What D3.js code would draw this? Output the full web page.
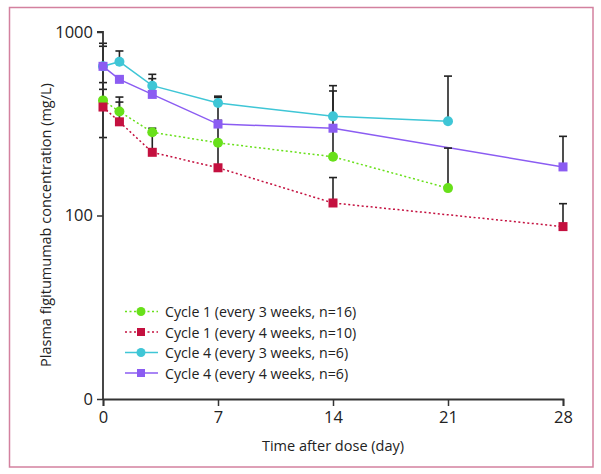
<!DOCTYPE html>
<html>
<head>
<meta charset="utf-8">
<script src="https://cdn.jsdelivr.net/npm/d3@7"></script>
<style>
  html, body { margin: 0; padding: 0; background: #fff; }
  svg text { font-family: "Open Sans", "Noto Sans", sans-serif; fill: #222; }
</style>
</head>
<body>
<svg id="chart" width="601" height="474"></svg>
<script>
// ---- data ----
const seriesNames = [
  "Cycle 1 (every 3 weeks, n=16)",
  "Cycle 1 (every 4 weeks, n=10)",
  "Cycle 4 (every 3 weeks, n=6)",
  "Cycle 4 (every 4 weeks, n=6)"
];
const c1q3wDays  = [0, 1, 3, 7, 14, 21];
const c1q3wMean  = [424, 369, 284, 249, 209, 141];
const c1q3wUpper = [530, 442, 299, 330, 300, 233];

const c1q4wDays  = [0, 1, 3, 7, 14, 28];
const c1q4wMean  = [390, 324, 221, 182, 117, 87];
const c1q4wUpper = [487, 415, 280, 250, 161, 116];

const c4q3wDays  = [0, 1, 3, 7, 14, 21];
const c4q3wMean  = [650, 689, 510, 410, 347, 326];
const c4q3wUpper = [868, 788, 588, 447, 510, 575];
const c4q3wLower = [266, null, null, null, null, null];

const c4q4wDays  = [0, 1, 3, 7, 14, 28];
const c4q4wMean  = [650, 552, 457, 315, 299, 184];
const c4q4wUpper = [836, 560, 557, 440, 477, 270];

const xTicks = [0, 7, 14, 21, 28];
const yTicks = [10, 100, 1000];
const yTickLabels = ["0", "100", "1000"];
const xTitle = "Time after dose (day)";
const yTitle = "Plasma figitumumab concentration (mg/L)";

// ---- build ----
const series = [
  { name: seriesNames[0], days: c1q3wDays, mean: c1q3wMean, upper: c1q3wUpper, lower: null, color: "#68e01a", dash: "2,2.5", shape: "circle" },
  { name: seriesNames[1], days: c1q4wDays, mean: c1q4wMean, upper: c1q4wUpper, lower: null, color: "#c4103f", dash: "2,2.5", shape: "square" },
  { name: seriesNames[2], days: c4q3wDays, mean: c4q3wMean, upper: c4q3wUpper, lower: c4q3wLower, color: "#3fc6d6", dash: null, shape: "circle" },
  { name: seriesNames[3], days: c4q4wDays, mean: c4q4wMean, upper: c4q4wUpper, lower: null, color: "#8b5cf2", dash: null, shape: "square" }
];

const svg = d3.select("#chart");
const x = d3.scaleLinear().domain([0, 28]).range([103, 563]);
const y = d3.scaleLog().domain([10, 1000]).range([399, 32]);

// frame
svg.append("rect").attr("x", 9.5).attr("y", 7.5).attr("width", 583.5).attr("height", 459.5)
  .attr("fill", "none").attr("stroke", "#d3819f").attr("stroke-width", 1.5);

// lines
const line = d3.line().x(d => x(d[0])).y(d => y(d[1]));
series.forEach(s => {
  const pts = s.days.map((d, i) => [d, s.mean[i]]);
  svg.append("path").datum(pts).attr("d", line)
    .attr("fill", "none").attr("stroke", s.color).attr("stroke-width", 1.5)
    .attr("stroke-dasharray", s.dash);
});

// error bars
const ebG = svg.append("g").attr("stroke", "#222").attr("stroke-width", 1.6);
series.forEach(s => {
  s.days.forEach((d, i) => {
    const cx = x(d);
    const ends = [];
    if (s.upper && s.upper[i] != null) ends.push(s.upper[i]);
    if (s.lower && s.lower[i] != null) ends.push(s.lower[i]);
    ends.forEach(v => {
      ebG.append("line").attr("x1", cx).attr("x2", cx).attr("y1", y(s.mean[i])).attr("y2", y(v));
      ebG.append("line").attr("x1", cx - 4).attr("x2", cx + 4).attr("y1", y(v)).attr("y2", y(v));
    });
  });
});

// axes
const axG = svg.append("g");
const yAxis = d3.axisLeft(y).tickValues(yTicks).tickFormat((d, i) => yTickLabels[i]).tickSize(6).tickPadding(4);
const gy = axG.append("g").attr("transform", `translate(${x(0)},0)`).call(yAxis);
const xAxis = d3.axisBottom(x).tickValues(xTicks).tickSize(7).tickPadding(5);
const gx = axG.append("g").attr("transform", `translate(0,${y(10)})`).call(xAxis);
[gx, gy].forEach(g => {
  g.select(".domain").attr("stroke", "#333").attr("stroke-width", 1.8);
  g.selectAll(".tick line").attr("stroke", "#333").attr("stroke-width", 1.5);
  g.selectAll(".tick text").attr("font-size", 16.5).attr("font-family", "Open Sans").attr("fill", "#222");
});
gy.select(".domain").attr("d", `M-6,${y(1000)}H0V${y(10)}`);

// markers
series.forEach(s => {
  const g = svg.append("g");
  s.days.forEach((d, i) => {
    const cx = x(d), cy = y(s.mean[i]);
    if (s.shape === "circle") {
      g.append("circle").attr("cx", cx).attr("cy", cy).attr("r", 5).attr("fill", s.color);
    } else {
      g.append("rect").attr("x", cx - 4.5).attr("y", cy - 4.5).attr("width", 9).attr("height", 9).attr("fill", s.color);
    }
  });
});

// titles
svg.append("text").attr("x", 333).attr("y", 451).attr("text-anchor", "middle")
  .attr("font-size", 14.5).text(xTitle);
svg.append("text").attr("transform", "translate(51,225) rotate(-90)").attr("text-anchor", "middle")
  .attr("font-size", 14.5).text(yTitle);

// legend
const legRowY = [311.5, 332, 352.5, 373];
series.forEach((s, i) => {
  const g = svg.append("g").attr("transform", `translate(0,${legRowY[i]})`);
  g.append("line").attr("x1", 125).attr("x2", 158).attr("y1", 0).attr("y2", 0)
    .attr("stroke", s.color).attr("stroke-width", 1.5).attr("stroke-dasharray", s.dash);
  if (s.shape === "circle") g.append("circle").attr("cx", 141).attr("cy", 0).attr("r", 4.5).attr("fill", s.color);
  else g.append("rect").attr("x", 137).attr("y", -4).attr("width", 8).attr("height", 8).attr("fill", s.color);
  g.append("text").attr("x", 165).attr("y", 5.5).attr("font-size", 14.2).text(s.name);
});
</script>
</body>
</html>
